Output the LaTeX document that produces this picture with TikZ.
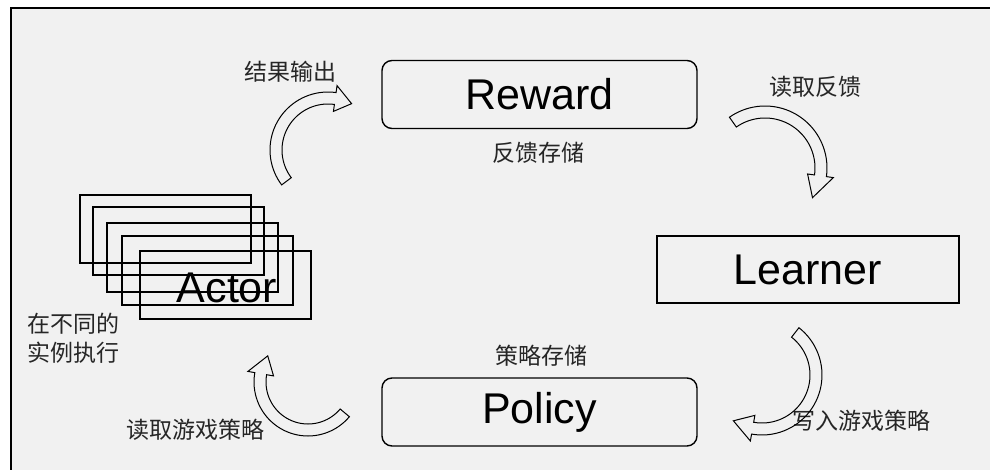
\documentclass[tikz,border=0pt]{standalone}
\usepackage{fontspec}
\setmainfont{Liberation Sans}
\newfontfamily\cjk{Noto Sans CJK SC}
\definecolor{bgcol}{HTML}{F1F1F1}
\newcommand\blockarc[8]{%
  \draw[arrowshape] plot[domain=#4:#5,samples=40] ({#1+(#3+#6)*cos(\x)},{#2+(#3+#6)*sin(\x)})
   -- ({#1+(#3+#7)*cos(#5)},{#2+(#3+#7)*sin(#5)})
   -- ({#1+#3*cos(#8)},{#2+#3*sin(#8)})
   -- ({#1+(#3-#7)*cos(#5)},{#2+(#3-#7)*sin(#5)})
   -- ({#1+(#3-#6)*cos(#5)},{#2+(#3-#6)*sin(#5)})
   -- plot[domain=#5:#4,samples=40] ({#1+(#3-#6)*cos(\x)},{#2+(#3-#6)*sin(\x)}) -- cycle;}
\begin{document}
\begin{tikzpicture}[x=1pt,y=-1pt,
  bigtxt/.style={font=\fontsize{43}{50}\selectfont, text=black},
  cntxt/.style={font=\cjk\fontsize{23}{29}\selectfont, text=black!85, inner sep=0pt},
  rbox/.style={draw=black, line width=1.4pt, rounded corners=10pt, minimum width=315pt, minimum height=68pt, bigtxt},
  sbox/.style={draw=black, line width=1.4pt, minimum width=302pt, minimum height=67pt, bigtxt},
  actorbox/.style={draw=black, line width=2pt, minimum width=171pt, minimum height=68pt, inner sep=0pt},
  arrowshape/.style={draw=black, line width=1pt, line join=miter}]
\useasboundingbox (0,0) rectangle (990,470);
\fill[white] (0,0) rectangle (990,470);
\fill[bgcol] (11,8) rectangle (990,470);
\draw[line width=2.4pt] (11,470) -- (11,8) -- (990,8);

% main boxes
\node[rbox] (reward) at (539.5,94.5) {Reward};
\node[rbox] (policy) at (539.5,412) {Policy};
\node[sbox] (learner) at (808,269.5) {Learner};

% actor stack
\node[actorbox] (actorA) at (165,229.5) {};
\node[actorbox] (actorB) at (178.5,241.5) {};
\node[actorbox] (actorC) at (192.5,257.5) {};
\node[actorbox] (actorD) at (207.5,270.5) {};
\node[actorbox] (actorE) at (225,285) {};
\node[bigtxt, inner sep=0pt] (actortext) at (227,288) {Actor};

% labels
\node[cntxt] (lfk) at (538,153) {反馈存储};
\node[cntxt] (lcl) at (541,356) {策略存储};
\node[cntxt] (ljg) at (290,72) {结果输出};
\node[cntxt] (ldq) at (815,87) {读取反馈};
\node[cntxt] (lxr) at (861,421) {写入游戏策略};
\node[cntxt] (ldy) at (195,430) {读取游戏策略};
\node[cntxt, anchor=north west, align=left] (lsl) at (27,313) {在不同的\\实例执行};

% curved block arrows
\blockarc{328}{150}{52}{143}{278}{6}{13}{297}
\blockarc{765}{168}{56}{235}{368}{6}{13}{392}
\blockarc{762}{375}{54}{-52}{100}{6}{13}{122}
\blockarc{308}{382}{48}{40}{190}{6}{13}{213}
\end{tikzpicture}
\end{document}
